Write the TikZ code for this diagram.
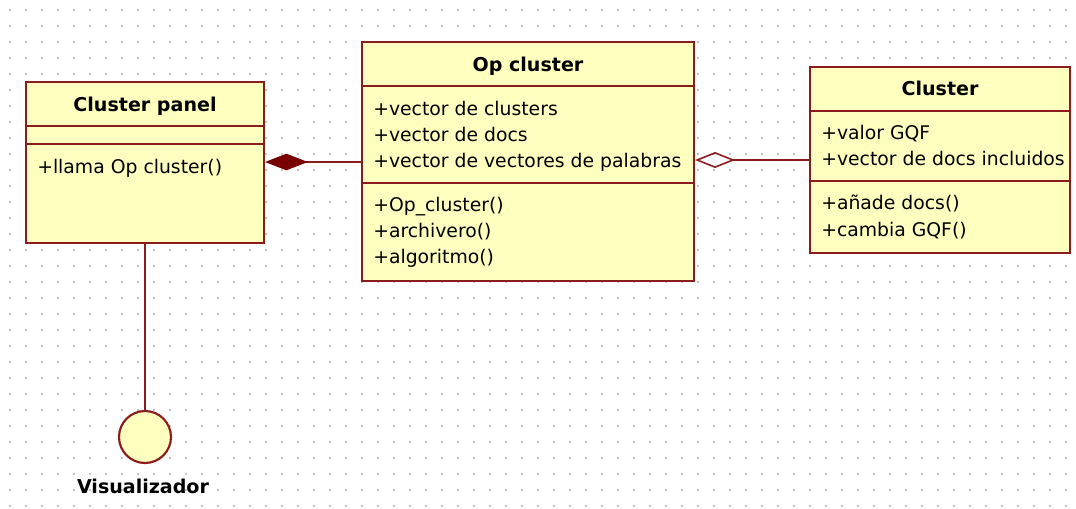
\documentclass[tikz,border=0pt]{standalone}
\usepackage{fontspec}
\setmainfont{DejaVu Sans}
\usetikzlibrary{arrows.meta}
\definecolor{umlfill}{RGB}{255,255,192}
\definecolor{umlline}{RGB}{140,28,28}
\definecolor{umldark}{RGB}{120,0,0}
\definecolor{griddot}{RGB}{195,195,195}
\tikzset{
  cls/.style={draw=umlline, fill=umlfill, line width=1.6pt, inner sep=0pt, rectangle},
  sep/.style={draw=umlline, line width=1.6pt},
  txt/.style={anchor=base west, inner sep=0pt, font=\fontsize{14.1pt}{17pt}\selectfont},
  ttl/.style={anchor=base, inner sep=0pt, font=\fontsize{14.3pt}{17pt}\selectfont\bfseries},
  comp/.style={draw=umlline, line width=1.6pt, -{Diamond[length=32pt,width=12.5pt,fill=umldark,color=umldark]}},
  agg/.style={draw=umlline, line width=1.6pt, -{Diamond[open,length=30pt,width=12pt,line width=1.2pt]}},
  lollipop/.style={circle, draw=umlline, fill=umlfill, line width=1.6pt, minimum size={52*0.75pt}, inner sep=0pt},
}
\begin{document}
\begin{tikzpicture}[x=0.75pt,y=-0.75pt]
\useasboundingbox (0,0) rectangle (1076,508);
\fill[white] (0,0) rectangle (1076,508);
% grid dots
\foreach \i in {0,...,66} {
  \foreach \j in {0,...,31} {
    \fill[griddot] ({10+16*\i-1},{10+16*\j-1}) rectangle ++(2,2);
  }
}
% Cluster panel
\node[cls, minimum width={238*0.75pt}, minimum height={161*0.75pt}] (panel) at (145,162.5) {};
\draw[sep] (26,126) -- (264,126);
\draw[sep] (26,144) -- (264,144);
\node[ttl] (panelT) at (145,111) {Cluster panel};
\node[txt] (panelM1) at (37,173) {+llama Op cluster()};
% Op cluster
\node[cls, minimum width={332*0.75pt}, minimum height={239*0.75pt}] (op) at (528,161.5) {};
\draw[sep] (362,86) -- (694,86);
\draw[sep] (362,183) -- (694,183);
\node[ttl] (opT) at (528,71) {Op cluster};
\node[txt] (opA1) at (373,115) {+vector de clusters};
\node[txt] (opA2) at (373,141) {+vector de docs};
\node[txt] (opA3) at (373,167) {+vector de vectores de palabras};
\node[txt] (opM1) at (373,211) {+Op\_cluster()};
\node[txt] (opM2) at (373,237) {+archivero()};
\node[txt] (opM3) at (373,263) {+algoritmo()};
% Cluster
\node[cls, minimum width={260*0.75pt}, minimum height={186*0.75pt}] (cl) at (940,160) {};
\draw[sep] (810,111) -- (1070,111);
\draw[sep] (810,181) -- (1070,181);
\node[ttl] (clT) at (940,95) {Cluster};
\node[txt] (clA1) at (821,139) {+valor GQF};
\node[txt] (clA2) at (821,165) {+vector de docs incluidos};
\node[txt] (clM1) at (821,209) {+añade docs()};
\node[txt] (clM2) at (821,236) {+cambia GQF()};
% Visualizador
\node[lollipop] (viz) at (145,437) {};
\node[ttl] (vizT) at (143,493) {Visualizador};
% connectors
\coordinate (opL) at (362,162);
\draw[comp] (opL) -- (opL -| panel.east);
\draw[agg] (cl.west) -- (cl.west -| op.east);
\draw[sep] (panel.south) -- (viz.north);
\end{tikzpicture}
\end{document}
